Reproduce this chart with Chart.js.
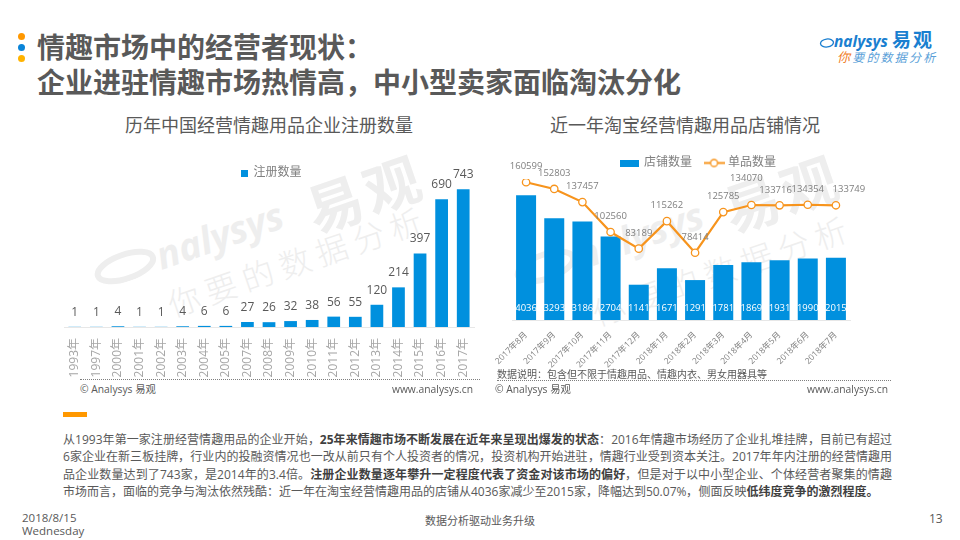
<!DOCTYPE html>
<html lang="zh">
<head>
<meta charset="utf-8">
<script src="https://cdn.jsdelivr.net/npm/chart.js@4"></script>
<style>
  @font-face { font-family: "PunctCenter"; src: local("Noto Sans CJK TC"); font-weight: 400; unicode-range: U+FF0C, U+FF1A; }
  @font-face { font-family: "PunctCenter"; src: local("Noto Sans CJK TC Bold"), local("Noto Sans CJK TC"); font-weight: 700; unicode-range: U+FF0C, U+FF1A; }
  html, body { margin: 0; padding: 0; background: #fff; }
  #slide { position: relative; width: 960px; height: 540px; overflow: hidden; background: #fff;
    font-family: "Open Sans", "Noto Sans CJK SC", sans-serif; color: #595959; }
  #slide > * { position: absolute; }
  canvas { display: block; }
  .dot { width: 7px; height: 7px; border-radius: 50%; left: 18px; }
  .title { left: 37px; top: 29px; font: 700 28px/35px "PunctCenter", "Noto Sans CJK SC", sans-serif; color: #595959; white-space: nowrap; }
  .sub { font: 400 18px/24px "Noto Sans CJK SC", sans-serif; top: 112px; white-space: nowrap; }
  .dotted { height: 0; border-top: 1px dotted #7f7f7f; }
  .foot { font-size: 10.3px; line-height: 14px; white-space: nowrap; }
  .note { font-size: 10px; line-height: 14px; white-space: nowrap; font-family: "PunctCenter", "Noto Sans CJK SC", sans-serif; }
  .body { left: 63px; top: 431px; width: 829px; font: 400 12px/17.4px "PunctCenter", "Open Sans", "Noto Sans CJK SC", sans-serif; }
  .body div { text-align: justify; text-align-last: justify; white-space: nowrap; height: 17.4px; }
  .body div:last-child { text-align-last: left; }
  .body b { font-weight: 700; color: #404040; }
  .wm { color: #eeeeee; white-space: nowrap; transform-origin: 0 100%; transform: rotate(-19deg); }
  .logo { left: 819px; top: 29px; color: #1a7fd0; white-space: nowrap; }
</style>
</head>
<body>
<div id="slide">
  <div class="wm" style="left:318px;top:177px;font:700 56px/64px 'Noto Sans CJK SC';letter-spacing:4px;">易观</div>
  <div class="wm" style="left:102px;top:252px;font:italic 700 38px/48px 'Open Sans';"><svg width="66" height="34"><ellipse cx="33" cy="19" rx="29" ry="12" fill="none" stroke="#eeeeee" stroke-width="6"/></svg>nalysys</div>
  <div class="wm" style="left:175px;top:283px;font:300 32px/40px 'Noto Sans CJK SC';letter-spacing:7px;">你要的数据分析</div>
  <div class="wm" style="left:735px;top:177px;font:700 56px/64px 'Noto Sans CJK SC';letter-spacing:4px;">易观</div>
  <div class="wm" style="left:522px;top:252px;font:italic 700 38px/48px 'Open Sans';"><svg width="66" height="34"><ellipse cx="33" cy="19" rx="29" ry="12" fill="none" stroke="#eeeeee" stroke-width="6"/></svg>nalysys</div>
  <div class="wm" style="left:600px;top:292px;font:300 32px/40px 'Noto Sans CJK SC';letter-spacing:7px;">你要的数据分析</div>

  <div class="dot" style="top:33px;background:#ff9800"></div>
  <div class="dot" style="top:44px;background:#0a84d8"></div>
  <div class="dot" style="top:55px;background:#ffb300"></div>
  <div class="title">情趣市场中的经营者现状：<br>企业进驻情趣市场热情高，中小型卖家面临淘汰分化</div>

  <div class="logo" style="font:italic 700 15.5px/20px 'Open Sans';">
    <svg width="15" height="14" style="vertical-align:-2px"><ellipse cx="8" cy="8" rx="6.5" ry="4" fill="none" stroke="#1a7fd0" stroke-width="1.3" transform="rotate(-8 8 8)"/></svg>nalysys <span style="font:700 19px/20px 'Noto Sans CJK SC';letter-spacing:2px;">易观</span>
  </div>
  <div class="logo" style="left:837px;top:50px;font:italic 400 12px/14px 'Noto Sans CJK SC';letter-spacing:2.2px;color:#5a9fd8;"><span style="color:#f07c1e;font-size:13px">你</span>要的数据分析</div>

  <div class="sub" style="left:125px">历年中国经营情趣用品企业注册数量</div>
  <div class="sub" style="left:550px">近一年淘宝经营情趣用品店铺情况</div>

  <canvas id="yearChart" width="444" height="213" style="left:50px;top:165px"></canvas>
  <canvas id="shopChart" width="428" height="215" style="left:485px;top:155px"></canvas>

  <div class="note" style="left:497px;top:367px">数据说明：包含但不限于情趣用品、情趣内衣、男女用器具等</div>
  <div class="dotted" style="left:80px;top:379px;width:400px"></div>
  <div class="dotted" style="left:497px;top:380px;width:394px"></div>
  <div class="foot" style="left:80px;top:382px">© Analysys 易观</div>
  <div class="foot" style="right:487px;top:382px">www.analysys.cn</div>
  <div class="foot" style="left:495px;top:382px">© Analysys 易观</div>
  <div class="foot" style="right:72px;top:382px">www.analysys.cn</div>

  <div style="left:63px;top:412px;width:24px;height:5px;background:#ff9800"></div>
  <div class="body">
    <div>从1993年第一家注册经营情趣用品的企业开始，<b>25年来情趣市场不断发展在近年来呈现出爆发的状态</b>：2016年情趣市场经历了企业扎堆挂牌，目前已有超过</div>
    <div>6家企业在新三板挂牌，行业内的投融资情况也一改从前只有个人投资者的情况，投资机构开始进驻，情趣行业受到资本关注。2017年年内注册的经营情趣用</div>
    <div>品企业数量达到了743家，是2014年的3.4倍。<b>注册企业数量逐年攀升一定程度代表了资金对该市场的偏好</b>，但是对于以中小型企业、个体经营者聚集的情趣</div>
    <div>市场而言，面临的竞争与淘汰依然残酷：近一年在淘宝经营情趣用品的店铺从4036家减少至2015家，降幅达到50.07%，侧面反映<b>低纬度竞争的激烈程度。</b></div>
  </div>

  <div style="left:22px;top:511px;font-size:11.5px;line-height:13px">2018/8/15<br>Wednesday</div>
  <div style="left:425px;top:513px;font-size:11px;line-height:16px">数据分析驱动业务升级</div>
  <div style="left:929px;top:512px;font-size:12px;line-height:14px">13</div>
</div>

<script>
const years = ['1993年', '1997年', '2000年', '2001年', '2002年', '2003年', '2004年', '2005年', '2007年', '2008年',
  '2009年', '2010年', '2011年', '2012年', '2013年', '2014年', '2015年', '2016年', '2017年'];
const registered = [1, 1, 4, 1, 1, 4, 6, 6, 27, 26, 32, 38, 56, 55, 120, 214, 397, 690, 743];

const months = ['2017年8月', '2017年9月', '2017年10月', '2017年11月', '2017年12月', '2018年1月', '2018年2月',
  '2018年3月', '2018年4月', '2018年5月', '2018年6月', '2018年7月'];
const shops = [4036, 3293, 3186, 2704, 1141, 1671, 1291, 1781, 1869, 1931, 1990, 2015];
const items = [160599, 152803, 137457, 102560, 83189, 115262, 78414, 125785, 134070, 133716, 134354, 133749];

const BLUE = '#0090de';
const ORANGE = '#f7941d';
// hand moved labels on the line, [dx, dy] by point index
const itemNudge = { 8: [-5, -11], 9: [-4, 0], 11: [13, 0] };

function hiddenAxis(width, position, max) {
  return {
    position, min: 0, max,
    display: true,
    grid: { display: false },
    border: { display: false },
    ticks: { display: false },
    afterFit: s => { s.width = width; }
  };
}

function legendIcon(w, h, draw) {
  const c = document.createElement('canvas');
  c.width = w;
  c.height = h;
  draw(c.getContext('2d'));
  return c;
}

const squareIcon = legendIcon(7, 7, g => { g.fillStyle = BLUE; g.fillRect(0, 0, 7, 7); });
const barIcon = legendIcon(19, 7, g => { g.fillStyle = BLUE; g.fillRect(0, 0, 19, 7); });
const lineIcon = legendIcon(21, 11, g => {
  g.strokeStyle = ORANGE;
  g.lineWidth = 2;
  g.beginPath(); g.moveTo(0, 5.5); g.lineTo(21, 5.5); g.stroke();
  g.fillStyle = '#fff';
  g.lineWidth = 1.3;
  g.beginPath(); g.arc(10.5, 5.5, 3.5, 0, Math.PI * 2); g.fill(); g.stroke();
});

const yearLabels = {
  id: 'yearLabels',
  afterDatasetsDraw(chart) {
    const ctx = chart.ctx;
    ctx.save();
    ctx.font = '12px "Open Sans"';
    ctx.fillStyle = '#595959';
    ctx.textAlign = 'center';
    ctx.textBaseline = 'middle';
    chart.getDatasetMeta(0).data.forEach((bar, i) => {
      ctx.fillText(registered[i], bar.x, bar.y - 14.5);
    });
    ctx.restore();
  }
};

const shopLabels = {
  id: 'shopLabels',
  afterDatasetsDraw(chart) {
    const ctx = chart.ctx;
    ctx.save();
    ctx.textAlign = 'center';
    ctx.textBaseline = 'middle';
    ctx.font = '9.5px "Open Sans"';
    ctx.fillStyle = '#ffffff';
    chart.getDatasetMeta(0).data.forEach((bar, i) => {
      ctx.fillText(shops[i], bar.x, chart.chartArea.bottom - 12);
    });
    ctx.fillStyle = '#7f7f7f';
    chart.getDatasetMeta(1).data.forEach((pt, i) => {
      const nudge = itemNudge[i] || [0, 0];
      ctx.fillText(items[i], pt.x + nudge[0], pt.y - 15.5 + nudge[1]);
    });
    ctx.restore();
  }
};

new Chart(document.getElementById('yearChart'), {
  type: 'bar',
  plugins: [yearLabels],
  data: {
    labels: years,
    datasets: [{ label: '注册数量', data: registered, backgroundColor: BLUE, categoryPercentage: 1, barPercentage: 0.59 }]
  },
  options: {
    responsive: false,
    animation: false,
    layout: { autoPadding: false },
    plugins: {
      tooltip: { enabled: false },
      legend: {
        labels: {
          usePointStyle: true,
          pointStyleWidth: 5,
          boxHeight: 12,
          padding: 2,
          color: '#7f7f7f',
          font: { size: 12, family: '"Open Sans", "Noto Sans CJK SC"' },
          generateLabels: c => Chart.defaults.plugins.legend.labels.generateLabels(c)
            .map(l => Object.assign(l, { pointStyle: squareIcon }))
        }
      }
    },
    scales: {
      x: {
        grid: { display: false },
        border: { color: '#e7e7e7', width: 1 },
        ticks: {
          autoSkip: false, minRotation: 90, maxRotation: 90, padding: 3,
          color: '#a6a6a6',
          font: { size: 12, family: '"Open Sans", "Noto Sans CJK SC"' }
        },
        afterFit: s => { s.height = 51; }
      },
      y: hiddenAxis(14, 'left', 745),
      yRight: hiddenAxis(20, 'right', 745)
    }
  }
});

new Chart(document.getElementById('shopChart'), {
  type: 'bar',
  plugins: [shopLabels],
  data: {
    labels: months,
    datasets: [
      { label: '店铺数量', data: shops, backgroundColor: BLUE, yAxisID: 'y', categoryPercentage: 1, barPercentage: 0.71, order: 2 },
      {
        type: 'line', label: '单品数量', data: items, yAxisID: 'y2', order: 1,
        borderColor: ORANGE, borderWidth: 2.2, tension: 0,
        pointRadius: 3.7, pointBackgroundColor: '#fff', pointBorderColor: ORANGE, pointBorderWidth: 1.3
      }
    ]
  },
  options: {
    responsive: false,
    animation: false,
    layout: { autoPadding: false },
    plugins: {
      tooltip: { enabled: false },
      legend: {
        labels: {
          usePointStyle: true,
          pointStyleWidth: 16,
          boxHeight: 12,
          padding: 2,
          color: '#7f7f7f',
          font: { size: 12, family: '"Open Sans", "Noto Sans CJK SC"' },
          generateLabels: c => Chart.defaults.plugins.legend.labels.generateLabels(c)
            .sort((a, b) => a.datasetIndex - b.datasetIndex)
            .map((l, i) => Object.assign(l, i === 0 ? { pointStyle: barIcon, text: l.text + '\u3000' } : { pointStyle: lineIcon }))
        }
      }
    },
    scales: {
      x: {
        grid: { display: false },
        border: { color: '#e7e7e7', width: 1 },
        ticks: {
          autoSkip: false, minRotation: 45, maxRotation: 45, padding: 2,
          color: '#7f7f7f',
          font: { size: 8.5, family: '"Open Sans", "Noto Sans CJK SC"' }
        },
        afterFit: s => { s.height = 50; }
      },
      y: hiddenAxis(27, 'left', 4560),
      y2: hiddenAxis(63, 'right', 164400)
    }
  }
});
</script>
</body>
</html>
